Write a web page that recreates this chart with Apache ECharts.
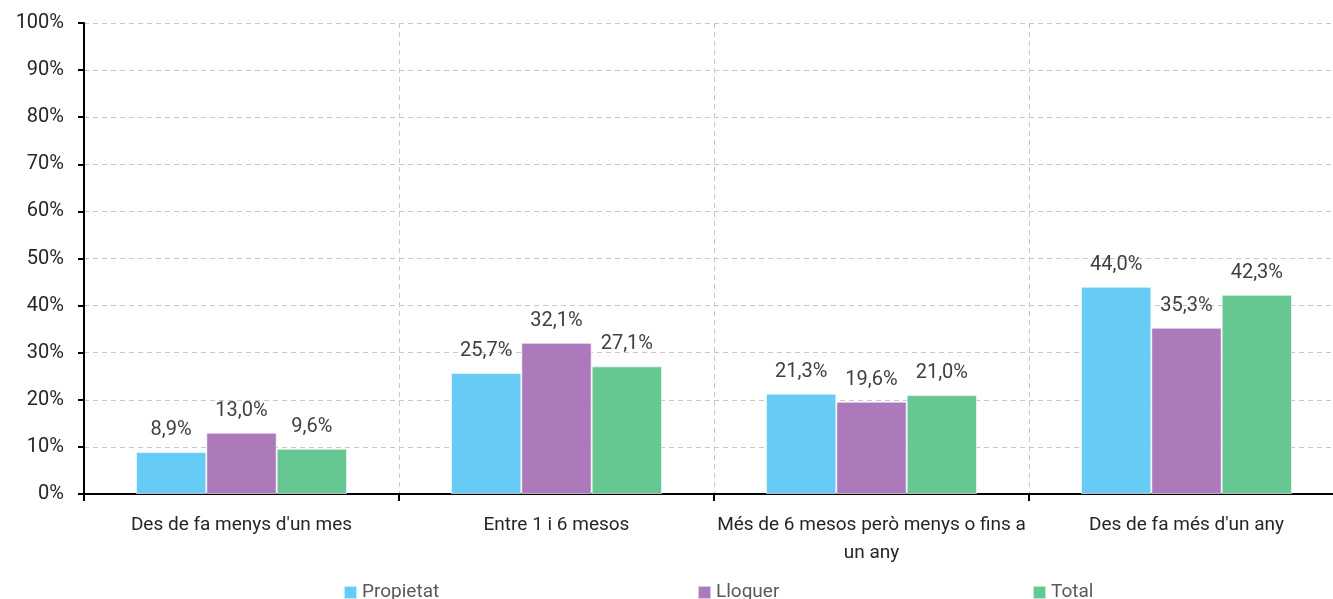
<!DOCTYPE html>
<html><head><meta charset="utf-8">
<script src="https://cdn.jsdelivr.net/npm/echarts@6/dist/echarts.min.js"></script>
<style>html,body{margin:0;padding:0;background:#fff;overflow:hidden;width:1333px;height:599px}#c{width:1346px;height:599px}</style>
</head><body><div id="c"></div>
<script>
var categories = ["Des de fa menys d'un mes", "Entre 1 i 6 mesos", "Més de 6 mesos però menys o fins a un any", "Des de fa més d'un any"];
var propietat = [8.9, 25.7, 21.3, 44.0];
var lloguer = [13.0, 32.1, 19.6, 35.3];
var total = [9.6, 27.1, 21.0, 42.3];
var seriesNames = ["Propietat", "Lloguer", "Total"];
var colors = ["#66CCF5", "#AC79BA", "#66C792"];

var FONT = "'Roboto', sans-serif";
var chart = echarts.init(document.getElementById('c'));
function fmt(v){ return v.toFixed(1).replace('.', ',') + '%'; }
var datas = [propietat, lloguer, total];
var series = datas.map(function(d, i){
  return {
    name: seriesNames[i], type: 'bar', data: d,
    barGap: '0%', barCategoryGap: '33%',
    itemStyle: {color: colors[i], borderColor: 'rgba(255,255,255,0.6)', borderWidth: 1},
    label: {show: true, position: 'top', distance: 12, formatter: function(p){return fmt(p.value);},
      color: '#404040', fontSize: 20, fontFamily: FONT}
  };
});
var legendLefts = [338, 692, 1027];
chart.setOption({
  animation: false,
  textStyle: {fontFamily: FONT},
  grid: {left: 84, top: 23, right: 2, height: 471, containLabel: false, outerBoundsMode: 'none'},
  legend: seriesNames.map(function(n, i){
    return {data: [n], left: legendLefts[i], top: 578, itemWidth: 13, itemHeight: 13, icon: 'rect',
      textStyle: {color: '#595959', fontSize: 19, fontFamily: FONT}, itemGap: 4};
  }),
  xAxis: {
    type: 'category', data: categories,
    axisLine: {lineStyle: {color: '#000', width: 2}},
    axisTick: {show: true, length: 7, lineStyle: {color: '#000', width: 2}},
    splitLine: {show: true, lineStyle: {color: '#c8c8c8', type: [5, 4], width: 1}},
    axisLabel: {color: '#262626', fontSize: 19, fontFamily: FONT, margin: 17, width: 340, overflow: 'break', lineHeight: 28, interval: 0,
      formatter: function(v){ return v.replace('fins a ', 'fins a\n'); }}
  },
  yAxis: {
    type: 'value', min: 0, max: 100, interval: 10,
    axisLine: {show: true, lineStyle: {color: '#000', width: 2}},
    axisTick: {show: true, length: 6, lineStyle: {color: '#000', width: 2}},
    splitLine: {show: true, lineStyle: {color: '#c8c8c8', type: [5, 4], width: 1}},
    axisLabel: {formatter: '{value}%', color: '#262626', fontSize: 20, fontFamily: FONT, margin: 20}
  },
  series: series
});
</script></body></html>
